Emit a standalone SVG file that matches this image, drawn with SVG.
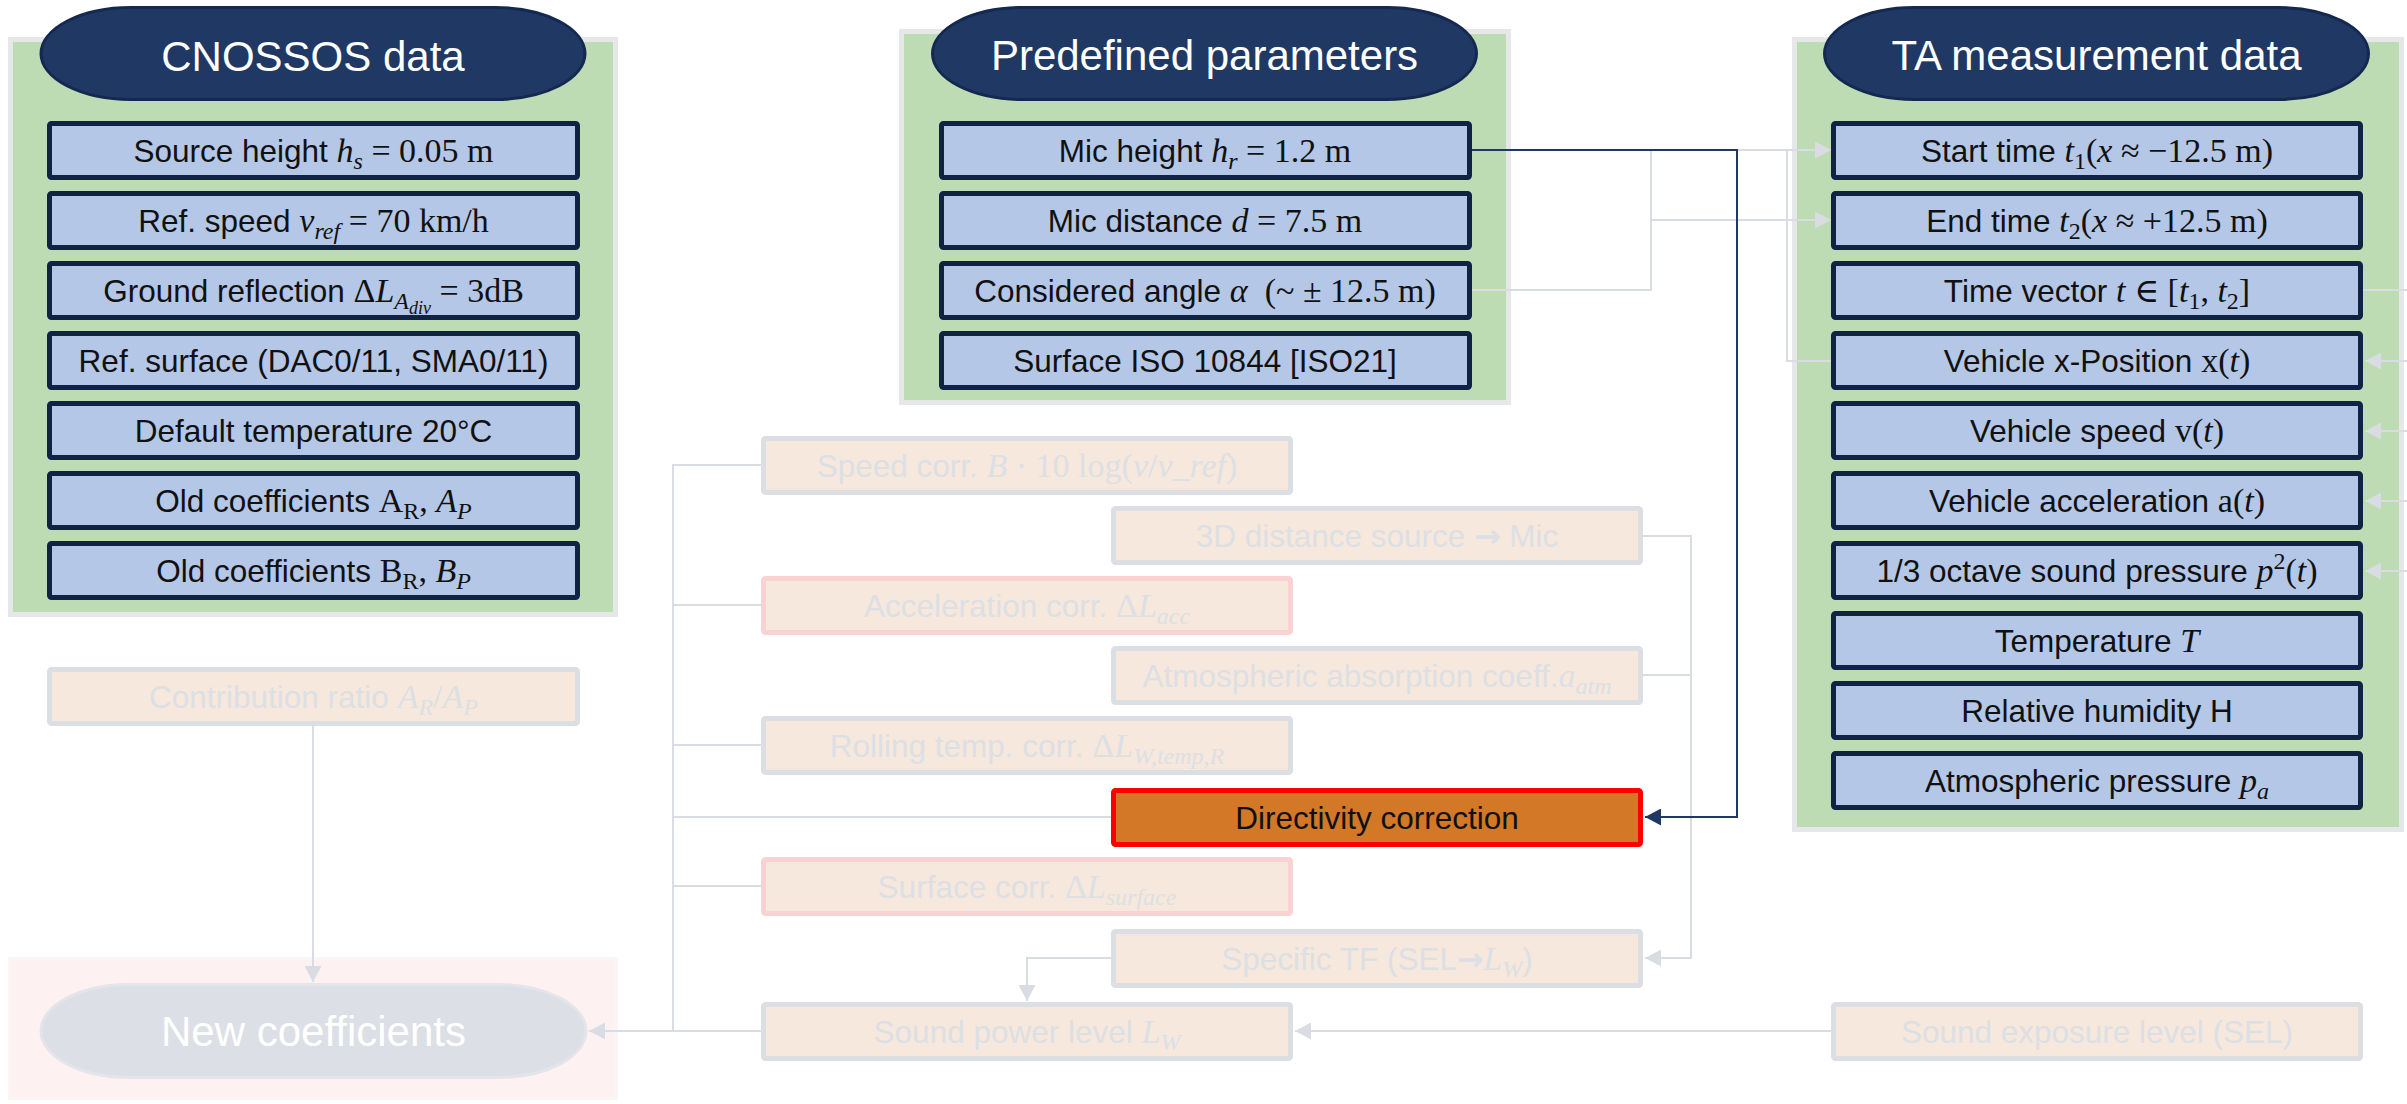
<svg xmlns="http://www.w3.org/2000/svg" width="2407" height="1104" viewBox="0 0 2407 1104">
<style>
.panel{fill:#bddcb4;stroke:#e6e7e9;stroke-width:5}
.hdr{fill:#1f3864;stroke:#142850;stroke-width:3}
.htxt{font-family:"Liberation Sans",Arial,sans-serif;font-size:42px;fill:#ffffff;text-anchor:middle}
.box{fill:#b4c7e7;stroke:#102345;stroke-width:5}
.fbox{fill:#f6e8dc;stroke:#dbdee3;stroke-width:5}
.pbox{fill:#f6e8dc;stroke:#fbd2d2;stroke-width:5}
.dbox{fill:#d27826;stroke:#ff0000;stroke-width:5}
.t{font-family:"Liberation Sans",Arial,sans-serif;font-size:31.5px;fill:#111111;text-anchor:middle}
.f{fill:#dcdfe4}
.m{font-family:"Liberation Serif","DejaVu Serif",serif;font-style:normal;font-size:34px}
.mi{font-family:"Liberation Serif","DejaVu Serif",serif;font-style:italic;font-size:34px}
.ms{font-family:"Liberation Serif","DejaVu Serif",serif;font-style:italic;font-size:24px}
.mu{font-family:"Liberation Serif","DejaVu Serif",serif;font-style:normal;font-size:24px}
.mss{font-family:"Liberation Serif","DejaVu Serif",serif;font-style:italic;font-size:18px}
.ar{font-family:"DejaVu Sans",sans-serif;font-weight:bold}
.gc{fill:none;stroke:#d9dde3;stroke-width:2}
.dc{fill:none;stroke:#1f3864;stroke-width:2}
</style>
<defs>
<marker id="ag" markerUnits="userSpaceOnUse" markerWidth="17" markerHeight="17" refX="16" refY="8.5" orient="auto"><path d="M0,0 L16,8.5 L0,17 z" fill="#d9dde3"/></marker>
<marker id="ad" markerUnits="userSpaceOnUse" markerWidth="17" markerHeight="17" refX="16" refY="8.5" orient="auto"><path d="M0,0 L16,8.5 L0,17 z" fill="#1f3864"/></marker>
</defs>

<!-- panels -->
<g id="panel-cnossos">
<rect class="panel" x="10.5" y="39.5" width="605" height="575"/>
<rect class="hdr" x="41" y="7.5" width="544" height="92" rx="90" ry="46"/>
<text class="htxt" x="313" y="71">CNOSSOS data</text>
</g>
<g id="panel-predefined">
<rect class="panel" x="901.5" y="31.5" width="607" height="371"/>
<rect class="hdr" x="932.5" y="7.5" width="544" height="92" rx="90" ry="46"/>
<text class="htxt" x="1204.5" y="70">Predefined parameters</text>
</g>
<g id="panel-ta">
<rect class="panel" x="1794.5" y="39.5" width="607" height="790"/>
<rect class="hdr" x="1824.5" y="7.5" width="544" height="92" rx="90" ry="46"/>
<text class="htxt" x="2096.5" y="70">TA measurement data</text>
</g>
<g id="panel-new">
<rect x="9.5" y="958.5" width="607" height="140" fill="#fdf1f1" stroke="#fbf5f5" stroke-width="3"/>
</g>

<!-- connectors -->
<g id="connectors">
<path class="gc" d="M1472,290 H1651 V150 H1831" marker-end="url(#ag)"/>
<path class="gc" d="M1651,220 H1831" marker-end="url(#ag)"/>
<path class="gc" d="M1831,361 H1787 V150 H1800"/>
<path class="gc" d="M2363,290 H2407"/>
<path class="gc" d="M2407,361 H2365" marker-end="url(#ag)"/>
<path class="gc" d="M2407,431 H2365" marker-end="url(#ag)"/>
<path class="gc" d="M2407,501 H2365" marker-end="url(#ag)"/>
<path class="gc" d="M2407,571 H2365" marker-end="url(#ag)"/>
<path class="gc" d="M1643,536 H1691 V958 H1645" marker-end="url(#ag)"/>
<path class="gc" d="M1643,675 H1691"/>
<path class="gc" d="M761,465 H673 V1031"/>
<path class="gc" d="M761,605 H673"/>
<path class="gc" d="M761,745 H673"/>
<path class="gc" d="M1111,817 H673"/>
<path class="gc" d="M761,886 H673"/>
<path class="gc" d="M761,1031 H589" marker-end="url(#ag)"/>
<path class="gc" d="M313,726 V982" marker-end="url(#ag)"/>
<path class="gc" d="M1111,958 H1027 V1001" marker-end="url(#ag)"/>
<path class="gc" d="M1831,1031 H1295" marker-end="url(#ag)"/>
<path class="dc" d="M1472,150 H1737 V817 H1645" marker-end="url(#ad)"/>
</g>

<!-- CNOSSOS boxes -->
<g id="n-source-height"><rect class="box" x="49.5" y="123.5" width="528" height="54" rx="2"/>
<text class="t" x="313.5" y="162">Source height <tspan class="mi">h</tspan><tspan class="ms" dy="7">s</tspan><tspan class="m" dy="-7"> = 0.05 m</tspan></text></g>
<g id="n-ref-speed"><rect class="box" x="49.5" y="193.5" width="528" height="54" rx="2"/>
<text class="t" x="313.5" y="232">Ref. speed <tspan class="mi">v</tspan><tspan class="ms" dy="7">ref</tspan><tspan class="m" dy="-7"> = 70 km/h</tspan></text></g>
<g id="n-ground"><rect class="box" x="49.5" y="263.5" width="528" height="54" rx="2"/>
<text class="t" x="313.5" y="302">Ground reflection <tspan class="m">Δ</tspan><tspan class="mi">L</tspan><tspan class="ms" dy="7">A</tspan><tspan class="mss" dy="5">div</tspan><tspan class="m" dy="-12"> = 3dB</tspan></text></g>
<g id="n-ref-surface"><rect class="box" x="49.5" y="333.5" width="528" height="54" rx="2"/>
<text class="t" x="313.5" y="372">Ref. surface (DAC0/11, SMA0/11)</text></g>
<g id="n-default-temp"><rect class="box" x="49.5" y="403.5" width="528" height="54" rx="2"/>
<text class="t" x="313.5" y="442">Default temperature 20°C</text></g>
<g id="n-old-a"><rect class="box" x="49.5" y="473.5" width="528" height="54" rx="2"/>
<text class="t" x="313.5" y="512">Old coefficients <tspan class="m">A</tspan><tspan class="mu" dy="7">R</tspan><tspan class="m" dy="-7">, </tspan><tspan class="mi">A</tspan><tspan class="ms" dy="7">P</tspan></text></g>
<g id="n-old-b"><rect class="box" x="49.5" y="543.5" width="528" height="54" rx="2"/>
<text class="t" x="313.5" y="582">Old coefficients <tspan class="m">B</tspan><tspan class="mu" dy="7">R</tspan><tspan class="m" dy="-7">, </tspan><tspan class="mi">B</tspan><tspan class="ms" dy="7">P</tspan></text></g>

<!-- Predefined boxes -->
<g id="n-mic-height"><rect class="box" x="941.5" y="123.5" width="528" height="54" rx="2"/>
<text class="t" x="1205" y="162">Mic height <tspan class="mi">h</tspan><tspan class="ms" dy="7">r</tspan><tspan class="m" dy="-7"> = 1.2 m</tspan></text></g>
<g id="n-mic-distance"><rect class="box" x="941.5" y="193.5" width="528" height="54" rx="2"/>
<text class="t" x="1205" y="232">Mic distance <tspan class="mi">d</tspan><tspan class="m"> = 7.5 m</tspan></text></g>
<g id="n-angle"><rect class="box" x="941.5" y="263.5" width="528" height="54" rx="2"/>
<text class="t" x="1205" y="302">Considered angle <tspan class="mi">α</tspan><tspan class="m">&#160; (~ ± 12.5 m)</tspan></text></g>
<g id="n-surface-iso"><rect class="box" x="941.5" y="333.5" width="528" height="54" rx="2"/>
<text class="t" x="1205" y="372">Surface ISO 10844 [ISO21]</text></g>

<!-- TA boxes -->
<g id="n-start-time"><rect class="box" x="1833.5" y="123.5" width="527" height="54" rx="2"/>
<text class="t" x="2097" y="162">Start time <tspan class="mi">t</tspan><tspan class="mu" dy="7">1</tspan><tspan class="m" dy="-7">(</tspan><tspan class="mi">x</tspan><tspan class="m"> ≈ −12.5 m)</tspan></text></g>
<g id="n-end-time"><rect class="box" x="1833.5" y="193.5" width="527" height="54" rx="2"/>
<text class="t" x="2097" y="232">End time <tspan class="mi">t</tspan><tspan class="mu" dy="7">2</tspan><tspan class="m" dy="-7">(</tspan><tspan class="mi">x</tspan><tspan class="m"> ≈ +12.5 m)</tspan></text></g>
<g id="n-time-vector"><rect class="box" x="1833.5" y="263.5" width="527" height="54" rx="2"/>
<text class="t" x="2097" y="302">Time vector <tspan class="mi">t</tspan><tspan class="m"> ∈ [</tspan><tspan class="mi">t</tspan><tspan class="mu" dy="7">1</tspan><tspan class="m" dy="-7">, </tspan><tspan class="mi">t</tspan><tspan class="mu" dy="7">2</tspan><tspan class="m" dy="-7">]</tspan></text></g>
<g id="n-x-position"><rect class="box" x="1833.5" y="333.5" width="527" height="54" rx="2"/>
<text class="t" x="2097" y="372">Vehicle x-Position <tspan class="m">x(</tspan><tspan class="mi">t</tspan><tspan class="m">)</tspan></text></g>
<g id="n-speed"><rect class="box" x="1833.5" y="403.5" width="527" height="54" rx="2"/>
<text class="t" x="2097" y="442">Vehicle speed <tspan class="m">v(</tspan><tspan class="mi">t</tspan><tspan class="m">)</tspan></text></g>
<g id="n-accel"><rect class="box" x="1833.5" y="473.5" width="527" height="54" rx="2"/>
<text class="t" x="2097" y="512">Vehicle acceleration <tspan class="m">a(</tspan><tspan class="mi">t</tspan><tspan class="m">)</tspan></text></g>
<g id="n-pressure-p2"><rect class="box" x="1833.5" y="543.5" width="527" height="54" rx="2"/>
<text class="t" x="2097" y="582">1/3 octave sound pressure <tspan class="mi">p</tspan><tspan class="mu" dy="-13">2</tspan><tspan class="m" dy="13">(</tspan><tspan class="mi">t</tspan><tspan class="m">)</tspan></text></g>
<g id="n-temperature"><rect class="box" x="1833.5" y="613.5" width="527" height="54" rx="2"/>
<text class="t" x="2097" y="652">Temperature <tspan class="mi">T</tspan></text></g>
<g id="n-humidity"><rect class="box" x="1833.5" y="683.5" width="527" height="54" rx="2"/>
<text class="t" x="2097" y="722">Relative humidity H</text></g>
<g id="n-atm-pressure"><rect class="box" x="1833.5" y="753.5" width="527" height="54" rx="2"/>
<text class="t" x="2097" y="792">Atmospheric pressure <tspan class="mi">p</tspan><tspan class="ms" dy="7">a</tspan></text></g>

<!-- faded process boxes -->
<g id="n-contribution"><rect class="fbox" x="49.5" y="669.5" width="528" height="54" rx="2"/>
<text class="t f" x="313.5" y="708">Contribution ratio <tspan class="mi">A</tspan><tspan class="ms" dy="7">R</tspan><tspan class="m" dy="-7">/</tspan><tspan class="mi">A</tspan><tspan class="ms" dy="7">P</tspan></text></g>
<g id="n-speed-corr"><rect class="fbox" x="763.5" y="438.5" width="527" height="54" rx="2"/>
<text class="t f" x="1027" y="477">Speed corr. <tspan class="mi">B</tspan><tspan class="m"> · 10 log(</tspan><tspan class="mi">v</tspan><tspan class="m">/</tspan><tspan class="mi">v_ref</tspan><tspan class="m">)</tspan></text></g>
<g id="n-3d-distance"><rect class="fbox" x="1113.5" y="508.5" width="527" height="54" rx="2"/>
<text class="t f" x="1377" y="547">3D distance source <tspan class="ar">→</tspan> Mic</text></g>
<g id="n-accel-corr"><rect class="pbox" x="763.5" y="578.5" width="527" height="54" rx="2"/>
<text class="t f" x="1027" y="617">Acceleration corr. <tspan class="m">Δ</tspan><tspan class="mi">L</tspan><tspan class="ms" dy="7">acc</tspan></text></g>
<g id="n-atm-absorption"><rect class="fbox" x="1113.5" y="648.5" width="527" height="54" rx="2"/>
<text class="t f" x="1377" y="687">Atmospheric absorption coeff.<tspan class="mi">a</tspan><tspan class="ms" dy="7">atm</tspan></text></g>
<g id="n-rolling-temp"><rect class="fbox" x="763.5" y="718.5" width="527" height="54" rx="2"/>
<text class="t f" x="1027" y="757">Rolling temp. corr. <tspan class="m">Δ</tspan><tspan class="mi">L</tspan><tspan class="ms" dy="7">W,temp,R</tspan></text></g>
<g id="n-directivity"><rect class="dbox" x="1113.5" y="790.5" width="527" height="54" rx="2"/>
<text class="t" x="1377" y="829">Directivity correction</text></g>
<g id="n-surface-corr"><rect class="pbox" x="763.5" y="859.5" width="527" height="54" rx="2"/>
<text class="t f" x="1027" y="898">Surface corr. <tspan class="m">Δ</tspan><tspan class="mi">L</tspan><tspan class="ms" dy="7">surface</tspan></text></g>
<g id="n-specific-tf"><rect class="fbox" x="1113.5" y="931.5" width="527" height="54" rx="2"/>
<text class="t f" x="1377" y="970">Specific TF (SEL<tspan class="ar">→</tspan><tspan class="mi">L</tspan><tspan class="ms" dy="7">W</tspan><tspan dy="-7">)</tspan></text></g>
<g id="n-sound-power"><rect class="fbox" x="763.5" y="1004.5" width="527" height="54" rx="2"/>
<text class="t f" x="1027" y="1043">Sound power level <tspan class="mi">L</tspan><tspan class="ms" dy="7">W</tspan></text></g>
<g id="n-sel"><rect class="fbox" x="1833.5" y="1004.5" width="527" height="54" rx="2"/>
<text class="t f" x="2097" y="1043">Sound exposure level (SEL)</text></g>
<g id="n-new-coefficients"><rect x="41" y="984.5" width="545" height="93" rx="88" ry="46.5" fill="#dcdfe5" stroke="#e3e5e9" stroke-width="3"/>
<text class="htxt" x="313.5" y="1046">New coefficients</text></g>
</svg>
